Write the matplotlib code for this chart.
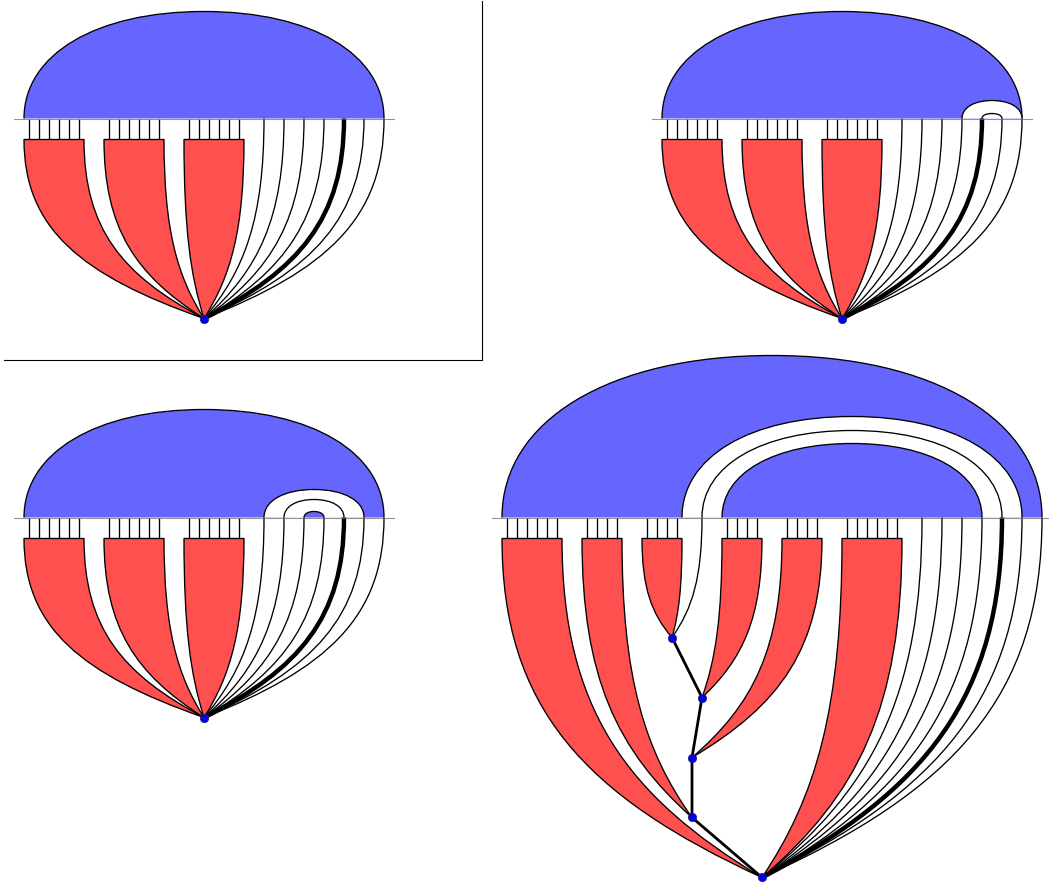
import numpy as np
import matplotlib
matplotlib.use('Agg')
import matplotlib.pyplot as plt
from matplotlib.path import Path
from matplotlib.patches import PathPatch

BLUE = '#6666ff'
RED = '#ff5050'

# panel data (pixel units of the reference)
p1_blocks = [(24, 84), (104, 164), (184, 244)]
p1_sticks = [29, 39, 49, 59, 69, 79, 109, 119, 129, 139, 149, 159, 189, 199, 209, 219, 229, 239]
p1_lines = [264, 284, 304, 324, 344, 364, 384]
p1_thick = 344

p2_blocks = [(662, 722), (742, 802), (822, 882)]
p2_sticks = [667, 677, 687, 697, 707, 717, 747, 757, 767, 777, 787, 797, 827, 837, 847, 857, 867, 877]
p2_lines = [902, 922, 942, 962, 982, 1002, 1022]
p2_thick = 982
p2_caps = [(962, 1022, 101, 'white'), (982, 1002, 114, 'white')]

p3_blocks = p1_blocks
p3_sticks = p1_sticks
p3_lines = p1_lines
p3_thick = 344
p3_caps = [(264, 364, 490, 'white'), (284, 344, 500, 'white'), (304, 324, 512, BLUE)]

p4_blocks = [(502, 562), (582, 622), (642, 682), (722, 762), (782, 822), (842, 902)]
p4_targets = [4, 3, 0, 1, 2, 4]
p4_sticks = [507, 517, 527, 537, 547, 557, 587, 597, 607, 617, 647, 657, 667, 677,
             727, 737, 747, 757, 787, 797, 807, 817, 847, 857, 867, 877, 887, 897]
p4_lines = [922, 942, 962, 982, 1002, 1022, 1042]
p4_thick = 1002
p4_caps = [(682, 1022, 417, 'white'), (702, 1002, 431, 'white'), (722, 982, 444, BLUE)]
p4_nodes_x = [672, 702, 692, 692, 762]
p4_nodes_y = [638, 698, 758, 818, 878]

frame_x = [482, 482, 4]
frame_y = [1, 360, 360]

fig = plt.figure(figsize=(10.49, 8.87), dpi=100)
ax = fig.add_axes([0, 0, 1, 1])
ax.set_xlim(0, 1049)
ax.set_ylim(886.5, -0.5)
ax.axis('off')

LW = 0.95


def arch(x1, x2, base, top, fc, lw=LW, z=2):
    mid = (x1 + x2) / 2
    w = (x2 - x1) / 2
    h = base - top
    verts = [(x1, base), (x1, base - 0.6 * h), (mid - 0.6 * w, top), (mid, top),
             (mid + 0.6 * w, top), (x2, base - 0.6 * h), (x2, base), (x1, base)]
    codes = [Path.MOVETO] + [Path.CURVE4] * 6 + [Path.CLOSEPOLY]
    ax.add_patch(PathPatch(Path(verts, codes), fc=fc, ec='none', zorder=z))
    ax.add_patch(PathPatch(Path(verts[:7], codes[:7]), fc='none', ec='black', lw=lw, zorder=z + 0.5))


def strand(x, y0, nx, ny):
    # control points of one curve running down from the base line to a node
    h = ny - y0
    dx = x - nx
    return [(x, y0), (x, y0 + 0.5 * h), (nx + 0.68 * dx, ny - 0.24 * h), (nx, ny)]


def line(x, y0, nx, ny, lw=LW, z=4):
    codes = [Path.MOVETO] + [Path.CURVE4] * 3
    ax.add_patch(PathPatch(Path(strand(x, y0, nx, ny), codes), fc='none', ec='black', lw=lw, zorder=z))


def block(x1, x2, y0, nx, ny):
    a = strand(x1, y0, nx, ny)
    b = strand(x2, y0, nx, ny)[::-1]
    verts = a + b[1:] + [(x1, y0), (x1, y0)]
    codes = [Path.MOVETO] + [Path.CURVE4] * 6 + [Path.LINETO, Path.CLOSEPOLY]
    ax.add_patch(PathPatch(Path(verts, codes), fc=RED, ec='black', lw=LW, zorder=3, joinstyle='miter'))


def panel(blocks, sticks, lines, thick, dome, base, top, apex, rule, caps=(), targets=None, nodes=None):
    arch(dome[0], dome[1], base, top, BLUE)
    for c in caps:
        arch(c[0], c[1], base, c[2], c[3], z=2.6)
    for s in sticks:
        ax.plot([s, s], [base, base + 21], color='black', lw=LW, zorder=3, solid_capstyle='butt')
    for i, (a, b) in enumerate(blocks):
        n = apex if targets is None else nodes[targets[i]]
        block(a, b, base + 21, n[0], n[1])
    for x in lines:
        line(x, base, apex[0], apex[1], lw=3.2 if x == thick else LW)
    ax.plot(rule, [base, base], color='#666666', lw=0.8, alpha=0.7, zorder=5)


# frame of the first panel
ax.plot(frame_x, frame_y, color='black', lw=0.8, zorder=1)

panel(p1_blocks, p1_sticks, p1_lines, p1_thick, (24, 384), 119, 12, (204, 319), (14, 394))
ax.plot(204, 319, 'o', ms=6, mfc='#0000ee', mec='#222266', mew=0.5, zorder=6)

panel(p2_blocks, p2_sticks, p2_lines, p2_thick, (662, 1022), 119, 12, (842, 319), (652, 1032), caps=p2_caps)
ax.plot(842, 319, 'o', ms=6, mfc='#0000ee', mec='#222266', mew=0.5, zorder=6)

panel(p3_blocks, p3_sticks, p3_lines, p3_thick, (24, 384), 518, 410, (204, 718), (14, 394), caps=p3_caps)
ax.plot(204, 718, 'o', ms=6, mfc='#0000ee', mec='#222266', mew=0.5, zorder=6)

p4_nodes = list(zip(p4_nodes_x, p4_nodes_y))
panel(p4_blocks, p4_sticks, p4_lines, p4_thick, (502, 1042), 518, 356, (762, 878), (492, 1049),
      caps=p4_caps, targets=p4_targets, nodes=p4_nodes)
line(702, 518, p4_nodes_x[0], p4_nodes_y[0])
ax.plot(p4_nodes_x, p4_nodes_y, '-', color='black', lw=2, zorder=5)
ax.plot(p4_nodes_x, p4_nodes_y, 'o', ms=6, mfc='#0000ee', mec='#222266', mew=0.5, zorder=6)

fig.savefig('out.png', dpi=100)
